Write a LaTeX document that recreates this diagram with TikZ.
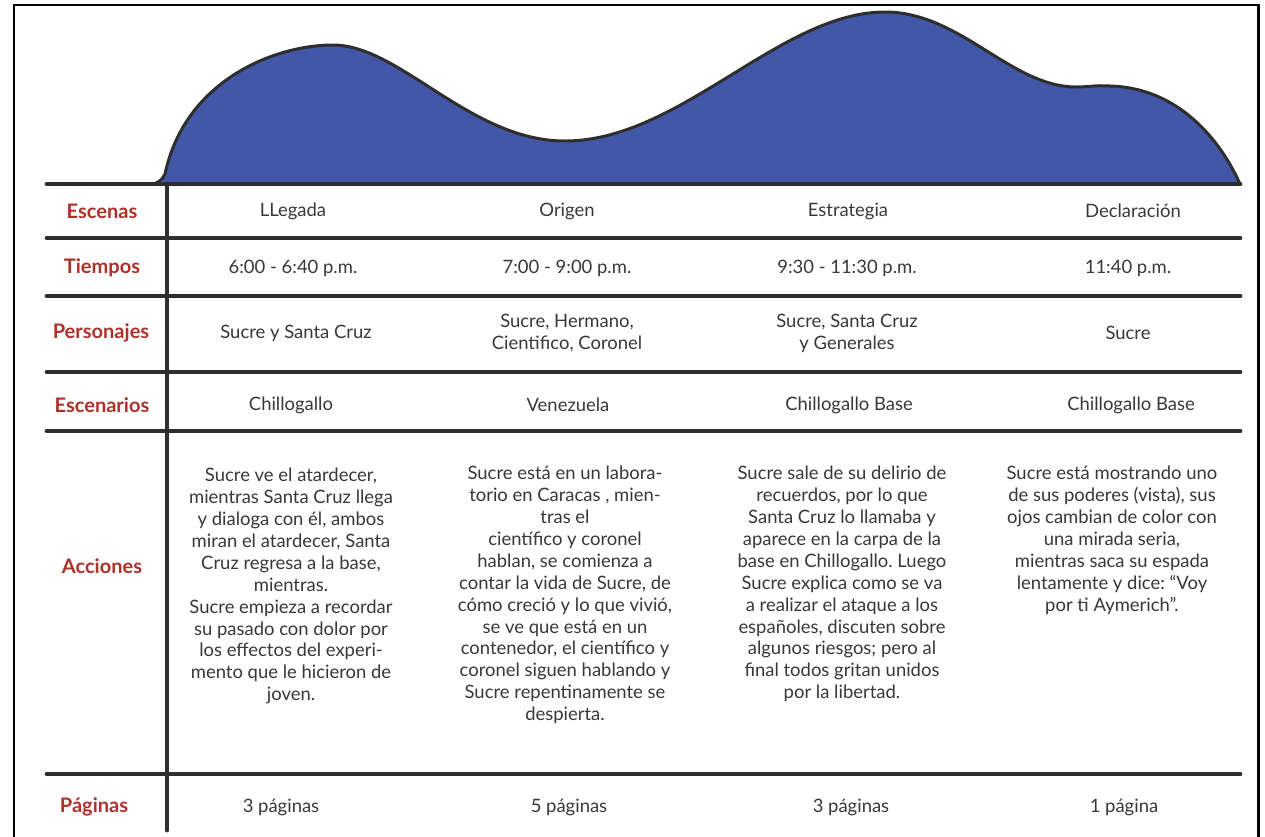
\documentclass[tikz,border=0pt]{standalone}
\usepackage{fontspec}
\setmainfont{Lato}
\frenchspacing
\definecolor{wave}{HTML}{4257A8}
\definecolor{ink}{HTML}{2E2E2E}
\definecolor{lblred}{HTML}{B0302A}
\definecolor{txt}{HTML}{383838}
\begin{document}
\begin{tikzpicture}[x=0.02cm,y=-0.02cm,
  rule/.style={draw=ink,line width=2.8pt,line cap=round},
  frame/.style={draw=black,line width=1.7pt},
  lbl/.style={text=lblred,font=\fontsize{11.4}{13}\selectfont\bfseries,inner sep=0pt},
  cell/.style={text=txt,font=\fontsize{10.5}{12.45}\selectfont,align=center,inner sep=0pt},
  para/.style={cell,anchor=north}]
\useasboundingbox (0,0) rectangle (1265,836);
\fill[white] (0,0) rectangle (1265,836);
% frame
\draw[frame] (14,840) -- (14,5) -- (1258,5) -- (1258,840);
% wave
\fill[wave] (150,184) .. controls (158,184) and (162,180) .. (165,174)
  .. controls (185,80) and (275,45) .. (333,45)
  .. controls (400,45) and (470,141) .. (565,141)
  .. controls (680,141) and (780,12) .. (885,12)
  .. controls (960,12) and (1010,86) .. (1075,87)
  .. controls (1090,87) and (1095,85) .. (1110,86)
  .. controls (1185,88) and (1225,150) .. (1240,184) -- cycle;
\draw[draw=ink,line width=1.7pt,line join=round] (150,184) .. controls (158,184) and (162,180) .. (165,174)
  .. controls (185,80) and (275,45) .. (333,45)
  .. controls (400,45) and (470,141) .. (565,141)
  .. controls (680,141) and (780,12) .. (885,12)
  .. controls (960,12) and (1010,86) .. (1075,87)
  .. controls (1090,87) and (1095,85) .. (1110,86)
  .. controls (1185,88) and (1225,150) .. (1240,184);
% table rules
\foreach \yy in {184,238,296,372,431,774} {\draw[rule] (47,\yy) -- (1240,\yy);}
\draw[rule] (167,184) -- (167,830);
% row labels
\node[lbl] (lesc) at (102,211) {Escenas};
\node[lbl] (ltie) at (102,268) {Tiempos};
\node[lbl] (lper) at (101,333) {Personajes};
\node[lbl] (lesr) at (102,405) {Escenarios};
\node[lbl] (lacc) at (102,566) {Acciones};
\node[lbl] (lpag) at (94,807) {Páginas};
% Escenas
\node[cell] (e1) at (293,211) {LLegada};
\node[cell] (e2) at (567,211) {Origen};
\node[cell] (e3) at (848,211) {Estrategia};
\node[cell] (e4) at (1133,211) {Declaración};
% Tiempos
\node[cell] (t1) at (293,268) {6:00 - 6:40 p.m.};
\node[cell] (t2) at (567,268) {7:00 - 9:00 p.m.};
\node[cell] (t3) at (847,268) {9:30 - 11:30 p.m.};
\node[cell] (t4) at (1128,268) {11:40 p.m.};
% Personajes
\node[cell] (p1) at (296,333) {Sucre y Santa Cruz};
\node[cell] (p2) at (567,333) {Sucre, Hermano,\\Cientifico, Coronel};
\node[cell] (p3) at (847,333) {Sucre, Santa Cruz\\y Generales};
\node[cell] (p4) at (1128,333) {Sucre};
% Escenarios
\node[cell] (s1) at (291,405) {Chillogallo};
\node[cell] (s2) at (568,405) {Venezuela};
\node[cell] (s3) at (849,405) {Chillogallo Base};
\node[cell] (s4) at (1131,405) {Chillogallo Base};
% Acciones
\node[para] (a1) at (291,468) {Sucre ve el atardecer,\\ mientras Santa Cruz llega\\ y dialoga con él, ambos\\ miran el atardecer, Santa\\ Cruz regresa a la base,\\ mientras.\\ Sucre empieza a recordar\\ su pasado con dolor por\\ los effectos del experi-\\ mento que le hicieron de\\ joven.};
\node[para] (a2) at (565,466) {Sucre está en un labora-\\ torio en Caracas , mien-\\ tras el\\ científico y coronel\\ hablan, se comienza a\\ contar la vida de Sucre, de\\ cómo creció y lo que vivió,\\ se ve que está en un\\ contenedor, el científico y\\ coronel siguen hablando y\\ Sucre repentinamente se\\ despierta.};
\node[para] (a3) at (842,466) {Sucre sale de su delirio de\\ recuerdos, por lo que\\ Santa Cruz lo llamaba y\\ aparece en la carpa de la\\ base en Chillogallo. Luego\\ Sucre explica como se va\\ a realizar el ataque a los\\ españoles, discuten sobre\\ algunos riesgos; pero al\\ final todos gritan unidos\\ por la libertad.};
\node[para] (a4) at (1112,466) {Sucre está mostrando uno\\ de sus poderes (vista), sus\\ ojos cambian de color con\\ una mirada seria,\\ mientras saca su espada\\ lentamente y dice: “Voy\\ por ti Aymerich”.};
% Paginas
\node[cell] (g1) at (281,807) {3 páginas};
\node[cell] (g2) at (569,807) {5 páginas};
\node[cell] (g3) at (851,807) {3 páginas};
\node[cell] (g4) at (1124,807) {1 página};
\end{tikzpicture}
\end{document}
